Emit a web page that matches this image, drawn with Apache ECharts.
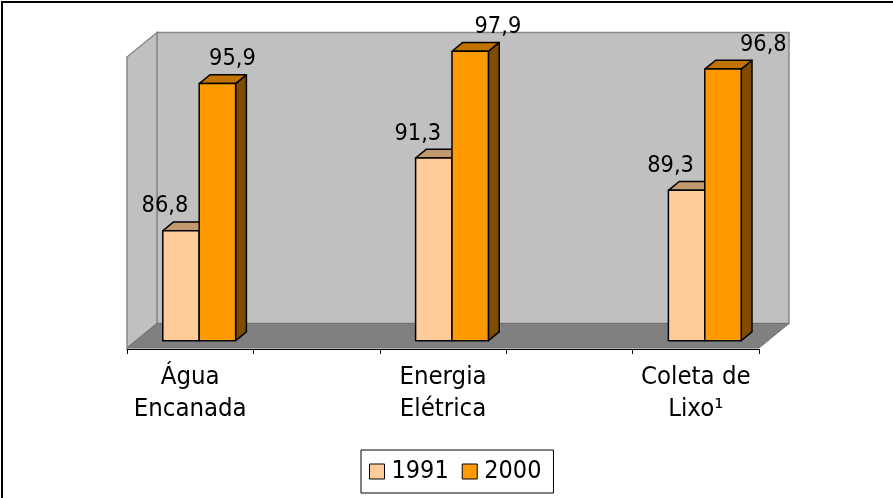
<!DOCTYPE html>
<html>
<head>
<meta charset="utf-8">
<script src="https://cdn.jsdelivr.net/npm/echarts@6/dist/echarts.min.js"></script>
<style>
  html, body { margin: 0; padding: 0; background: #fff; }
  #container { width: 893px; height: 498px; }
</style>
</head>
<body>
<div id="container"></div>
<script>
// chart data
var categories = ['Água\nEncanada', 'Energia\nElétrica', 'Coleta de\nLixo¹'];
var seriesNames = ['1991', '2000'];
var values1991 = [86.8, 91.3, 89.3];
var values2000 = [95.9, 97.9, 96.8];
var valueMin = 80;
var valueMax = 98;

document.addEventListener('DOMContentLoaded', function () {
    // the original sheet leaves an empty column between each category
    var slots = [];
    categories.forEach(function (c, i) {
        if (i > 0) slots.push('');
        slots.push(c);
    });
    function toSlots(arr) {
        return arr.map(function (v, i) { return [i * 2, v]; });
    }

    // fake 3D projection
    var DX = 30, DY = -24.5;
    var FRONT = 0.3, BACK = 0.66;
    var BAR_FRAC = 0.288;
    var FONT = 'DejaVu Sans';
    var FONT_C = '"DejaVu Sans Condensed", "DejaVu Sans"';

    var palettes = [
        { front: '#FFCC99', top: '#C0996E', side: '#806650' },
        { front: '#FF9900', top: '#C07300', side: '#7F4C00' }
    ];

    function wallsItem(params, api) {
        var cs = params.coordSys;
        var x = cs.x, y = cs.y, w = cs.width, h = cs.height;
        return {
            type: 'group',
            children: [
                {
                    type: 'rect',
                    shape: { x: x + DX, y: y + DY, width: w, height: h },
                    style: { fill: '#C0C0C0', stroke: '#888888', lineWidth: 1.5 }
                },
                {
                    type: 'polygon',
                    shape: { points: [[x, y + h], [x, y], [x + DX, y + DY], [x + DX, y + h + DY]] },
                    style: { fill: '#C0C0C0', stroke: '#888888', lineWidth: 1.5 }
                },
                {
                    type: 'polygon',
                    shape: { points: [[x, y + h], [x + DX, y + h + DY], [x + w + DX, y + h + DY], [x + w, y + h]] },
                    style: { fill: '#808080', stroke: '#707070', lineWidth: 1 }
                }
            ]
        };
    }

    function barItem(idx) {
        var pal = palettes[idx];
        return function (params, api) {
            var slot = api.value(0), v = api.value(1);
            var top = api.coord([slot, v]);
            var base = api.coord([slot, valueMin]);
            var band = api.size([1, 0])[0];
            var w = band * BAR_FRAC;
            var x0 = top[0] - w + idx * w;
            var fx = DX * FRONT, fy = DY * FRONT, bx = DX * BACK, by = DY * BACK;
            var t = top[1], b = base[1];
            var stroke = { stroke: '#000', lineWidth: 1.5, lineJoin: 'round' };

            var cx = x0 + fx + w / 2;
            // Excel pushes the labels sideways, more so to the right
            var shift = idx === 0 ? -16 : 10.5 + (cx - params.coordSys.x) * 0.05;

            return {
                type: 'group',
                children: [
                    {
                        type: 'polygon',
                        shape: { points: [[x0 + w + fx, t + fy], [x0 + w + bx, t + by], [x0 + w + bx, b + by], [x0 + w + fx, b + fy]] },
                        style: Object.assign({ fill: pal.side }, stroke)
                    },
                    {
                        type: 'polygon',
                        shape: { points: [[x0 + fx, t + fy], [x0 + bx, t + by], [x0 + w + bx, t + by], [x0 + w + fx, t + fy]] },
                        style: Object.assign({ fill: pal.top }, stroke)
                    },
                    {
                        type: 'rect',
                        shape: { x: x0 + fx, y: t + fy, width: w, height: b - t },
                        style: Object.assign({ fill: pal.front }, stroke)
                    },
                    {
                        // the source picture is stretched vertically a little
                        type: 'text',
                        x: cx + shift,
                        y: t + fy - 24.5,
                        scaleY: 1.12,
                        style: {
                            text: String(v).replace('.', ','),
                            fill: '#000',
                            fontSize: 21,
                            fontFamily: FONT,
                            align: 'center',
                            verticalAlign: 'middle'
                        }
                    }
                ]
            };
        };
    }

    var chartDom = document.getElementById('container');
    var myChart = echarts.init(chartDom, null, { renderer: 'canvas' });

    var option = {
        animation: false,
        backgroundColor: '#fff',
        graphic: [
            {
                type: 'rect',
                shape: { x: 2, y: 2, width: 1000, height: 1000 },
                style: { fill: 'transparent', stroke: '#000', lineWidth: 2 },
                z: 100
            }
        ],
        legend: {
            data: seriesNames,
            left: 361,
            top: 450,
            padding: [9, 12, 9, 8],
            icon: 'rect',
            itemWidth: 15,
            itemHeight: 15,
            itemGap: 13,
            borderColor: '#000',
            borderWidth: 1,
            itemStyle: { borderColor: '#000', borderWidth: 1 },
            textStyle: { fontFamily: FONT_C, fontSize: 25, color: '#000', padding: [0, 0, 0, 2] }
        },
        grid: {
            left: 127,
            right: 134,
            top: 57,
            bottom: 150
        },
        xAxis: {
            type: 'category',
            data: slots,
            offset: 1,
            axisLine: { lineStyle: { color: '#000', width: 1 } },
            axisTick: { show: true, length: 5, lineStyle: { color: '#000' } },
            axisLabel: {
                interval: 0,
                margin: 12,
                fontFamily: FONT_C,
                fontSize: 25.5,
                lineHeight: 32,
                color: '#000'
            }
        },
        yAxis: {
            type: 'value',
            min: valueMin,
            max: valueMax,
            show: false,
            splitLine: { show: false }
        },
        series: [
            {
                name: 'walls',
                type: 'custom',
                silent: true,
                z: 1,
                renderItem: wallsItem,
                data: [[0, valueMin]]
            },
            {
                name: seriesNames[0],
                type: 'custom',
                z: 2,
                itemStyle: { color: palettes[0].front },
                renderItem: barItem(0),
                data: toSlots(values1991)
            },
            {
                name: seriesNames[1],
                type: 'custom',
                z: 3,
                itemStyle: { color: palettes[1].front },
                renderItem: barItem(1),
                data: toSlots(values2000)
            }
        ]
    };

    option && myChart.setOption(option);
});
</script>
</body>
</html>
